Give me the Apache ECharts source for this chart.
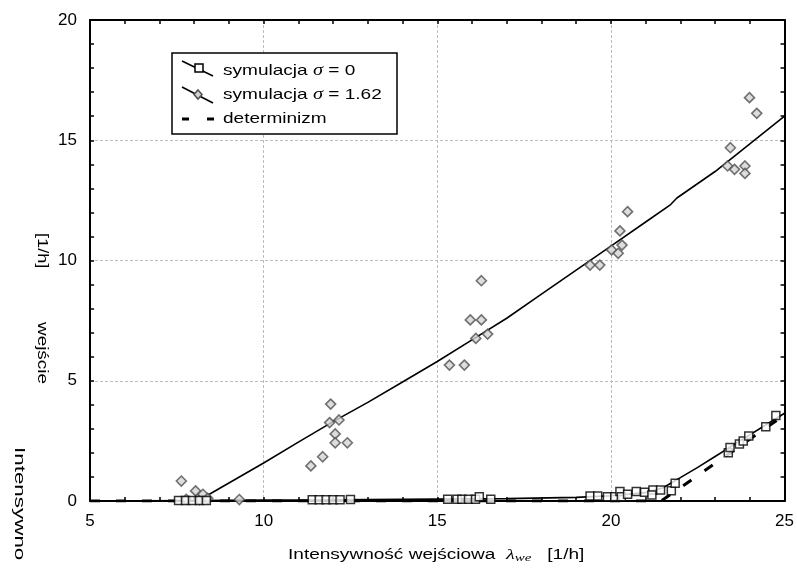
<!DOCTYPE html>
<html>
<head>
<meta charset="utf-8">
<script src="https://cdn.jsdelivr.net/npm/echarts@6/dist/echarts.min.js"></script>
<style>
  html, body { margin: 0; padding: 0; background: #fff; }
  #chart { width: 797px; height: 569px; }
</style>
</head>
<body>
<div id="chart"></div>
<script>
// simulation, sigma = 1.62: fitted curve
const sig162LineX = [5, 8.1, 9, 10, 11, 12, 13, 14, 15, 16, 17, 18, 19, 20, 21, 21.7, 21.9, 23, 24, 25]
const sig162LineY = [0, 0, 0.75, 1.58, 2.45, 3.3, 4.1, 4.95, 5.8, 6.7, 7.6, 8.6, 9.6, 10.6, 11.6, 12.3, 12.6, 13.7, 14.85, 16.0]
// simulation, sigma = 1.62: single runs
const sig162PtsX = [7.63, 7.77, 8.04, 8.15, 8.25, 8.39, 9.3,
  11.36, 11.7, 11.9, 11.93, 12.06, 12.06, 12.17, 12.41,
  15.35, 15.78, 15.95, 16.11, 16.27, 16.27, 16.45,
  19.4, 19.68, 20.02, 20.21, 20.26, 20.32, 20.48,
  23.36, 23.44, 23.56, 23.86, 23.86, 23.99, 24.2]
const sig162PtsY = [0.83, 0.07, 0.42, 0.05, 0.28, 0.11, 0.06,
  1.46, 1.84, 3.26, 4.03, 2.79, 2.42, 3.37, 2.42,
  5.65, 5.65, 7.53, 6.76, 7.53, 9.16, 6.94,
  9.81, 9.81, 10.44, 10.3, 11.23, 10.64, 12.03,
  13.93, 14.69, 13.79, 13.93, 13.62, 16.77, 16.12]

// simulation, sigma = 0: fitted curve
const sig0LineX = [5, 8, 10, 12, 15, 17, 19, 20, 21, 21.5, 21.8, 22, 22.5, 23, 23.5, 24, 24.5, 25]
const sig0LineY = [0, 0.02, 0.04, 0.05, 0.08, 0.1, 0.15, 0.22, 0.35, 0.55, 0.8, 0.97, 1.4, 1.85, 2.3, 2.75, 3.2, 3.65]
// simulation, sigma = 0: single runs
const sig0PtsX = [7.55, 7.75, 7.95, 8.15, 8.35,
  11.4, 11.6, 11.8, 12.0, 12.2, 12.5,
  15.3, 15.57, 15.71, 15.9, 16.1, 16.21, 16.54,
  19.4, 19.62, 19.9, 20.11, 20.26, 20.3, 20.48, 20.73, 20.97, 21.21, 21.18, 21.43, 21.74, 21.85,
  23.38, 23.43, 23.7, 23.81, 23.97, 24.46, 24.75]
const sig0PtsY = [0.02, 0.02, 0.02, 0.02, 0.02,
  0.05, 0.05, 0.05, 0.05, 0.05, 0.06,
  0.07, 0.07, 0.07, 0.07, 0.07, 0.18, 0.07,
  0.21, 0.21, 0.18, 0.18, 0.39, 0.18, 0.28, 0.39, 0.36, 0.46, 0.25, 0.46, 0.43, 0.74,
  2.01, 2.22, 2.37, 2.49, 2.7, 3.09, 3.55]

// deterministic model
const detX = [5, 21.45, 25]
const detY = [0, 0, 3.58]

const xTicks = [5, 10, 15, 20, 25]
const yTicks = [0, 5, 10, 15, 20]

const zip = (xs, ys) => xs.map((x, i) => [x, ys[i]])

const FONT = 'Liberation Sans, Arial, sans-serif'
const axisCommon = {
  axisLine: { show: true, onZero: false, lineStyle: { color: '#000', width: 2 } },
  axisTick: { show: true, inside: true, length: 4, lineStyle: { color: '#000', width: 1.5 } },
  minorTick: { show: true, splitNumber: 5, length: 4, lineStyle: { color: '#000', width: 1.5 } }
}

const chart = echarts.init(document.getElementById('chart'), null, { renderer: 'canvas' })

chart.setOption({
  animation: false,
  backgroundColor: '#fff',
  grid: { left: 90, right: 10, top: 20, bottom: 68, containLabel: false },
  xAxis: [
    {
      ...axisCommon,
      type: 'value', position: 'bottom',
      min: xTicks[0], max: xTicks[xTicks.length - 1], interval: 5,
      axisLabel: { color: '#000', fontSize: 17, fontFamily: FONT, margin: 12 },
      splitLine: { show: true, lineStyle: { color: '#bdbdbd', type: [3, 2], width: 1 } }
    },
    {
      ...axisCommon,
      type: 'value', position: 'top',
      min: xTicks[0], max: xTicks[xTicks.length - 1], interval: 5,
      axisLabel: { show: false }, splitLine: { show: false }
    }
  ],
  yAxis: [
    {
      ...axisCommon,
      type: 'value', position: 'left',
      min: yTicks[0], max: yTicks[yTicks.length - 1], interval: 5,
      axisLabel: { color: '#000', fontSize: 17, fontFamily: FONT, margin: 13 },
      splitLine: { show: true, lineStyle: { color: '#bdbdbd', type: [3, 2], width: 1 } }
    },
    {
      ...axisCommon,
      type: 'value', position: 'right',
      min: yTicks[0], max: yTicks[yTicks.length - 1], interval: 5,
      axisLabel: { show: false }, splitLine: { show: false }
    }
  ],
  series: [
    {
      name: 'determinizm', type: 'line', data: zip(detX, detY),
      showSymbol: false, lineStyle: { color: '#000', width: 3, type: [10, 16] }, z: 2
    },
    {
      name: 'sim0line', type: 'line', data: zip(sig0LineX, sig0LineY),
      showSymbol: false, lineStyle: { color: '#000', width: 1.6 }, z: 3
    },
    {
      name: 'sim162line', type: 'line', data: zip(sig162LineX, sig162LineY),
      showSymbol: false, lineStyle: { color: '#000', width: 1.6 }, z: 3
    },
    {
      name: 'sim162pts', type: 'scatter', data: zip(sig162PtsX, sig162PtsY),
      symbol: 'diamond', symbolSize: 10,
      itemStyle: { color: '#d4d4d4', borderColor: '#505050', borderWidth: 1.6 }, z: 4
    },
    {
      name: 'sim0pts', type: 'scatter', data: zip(sig0PtsX, sig0PtsY),
      symbol: 'rect', symbolSize: 8,
      itemStyle: { color: '#fff', borderColor: '#000', borderWidth: 1.5 }, z: 5
    }
  ],
  graphic: [
    // legend box
    { type: 'rect', z: 100, shape: { x: 172, y: 53, width: 225, height: 81 },
      style: { fill: '#fff', stroke: '#000', lineWidth: 1.5 } },
    { type: 'line', z: 101, shape: { x1: 182, y1: 61, x2: 213, y2: 76 }, style: { stroke: '#000', lineWidth: 1.5 } },
    { type: 'rect', z: 102, shape: { x: 195, y: 64, width: 8, height: 8 }, style: { fill: '#fff', stroke: '#000', lineWidth: 1.5 } },
    { type: 'line', z: 101, shape: { x1: 182, y1: 87, x2: 213, y2: 103 }, style: { stroke: '#000', lineWidth: 1.5 } },
    { type: 'polygon', z: 102, shape: { points: [[198, 90], [202, 94.5], [198, 99], [194, 94.5]] },
      style: { fill: '#d4d4d4', stroke: '#505050', lineWidth: 1.5 } },
    { type: 'line', z: 101, shape: { x1: 182, y1: 119, x2: 189, y2: 119 }, style: { stroke: '#000', lineWidth: 3 } },
    { type: 'line', z: 101, shape: { x1: 207, y1: 119, x2: 214, y2: 119 }, style: { stroke: '#000', lineWidth: 3 } },
    { type: 'text', z: 102, x: 223, y: 71, scaleX: 1.27,
      style: { text: 'symulacja {s|σ} = 0', fill: '#000', font: '15px ' + FONT, textVerticalAlign: 'middle',
        rich: { s: { fontStyle: 'italic', fontFamily: 'Liberation Serif', fontSize: 16 } } } },
    { type: 'text', z: 102, x: 223, y: 95, scaleX: 1.27,
      style: { text: 'symulacja {s|σ} = 1.62', fill: '#000', font: '15px ' + FONT, textVerticalAlign: 'middle',
        rich: { s: { fontStyle: 'italic', fontFamily: 'Liberation Serif', fontSize: 16 } } } },
    { type: 'text', z: 102, x: 223, y: 119, scaleX: 1.27,
      style: { text: 'determinizm', fill: '#000', font: '15px ' + FONT, textVerticalAlign: 'middle' } },
    // y axis title (split in pieces as in the original)
    { type: 'text', x: 42, y: 233, rotation: -Math.PI / 2, scaleX: 1.3,
      style: { text: '[1/h]', fill: '#000', font: '14px ' + FONT, textAlign: 'left', textVerticalAlign: 'middle' } },
    { type: 'text', x: 42, y: 322, rotation: -Math.PI / 2, scaleX: 1.35,
      style: { text: 'wejście', fill: '#000', font: '14px ' + FONT, textAlign: 'left', textVerticalAlign: 'middle' } },
    { type: 'text', x: 19, y: 447, rotation: -Math.PI / 2, scaleX: 1.6,
      style: { text: 'Intensywno', fill: '#000', font: '14px ' + FONT, textAlign: 'left', textVerticalAlign: 'middle' } },
    // x axis title
    { type: 'text', x: 288, y: 555, scaleX: 1.36,
      style: { text: 'Intensywność wejściowa  {l|λ}{w|we}   [1/h]', fill: '#000', font: '14px ' + FONT,
        textVerticalAlign: 'middle',
        rich: {
          l: { fontStyle: 'italic', fontFamily: 'Liberation Serif', fontSize: 15 },
          w: { fontStyle: 'italic', fontFamily: 'Liberation Serif', fontSize: 11, padding: [7, 0, 0, 0] }
        } } }
  ]
})
</script>
</body>
</html>
